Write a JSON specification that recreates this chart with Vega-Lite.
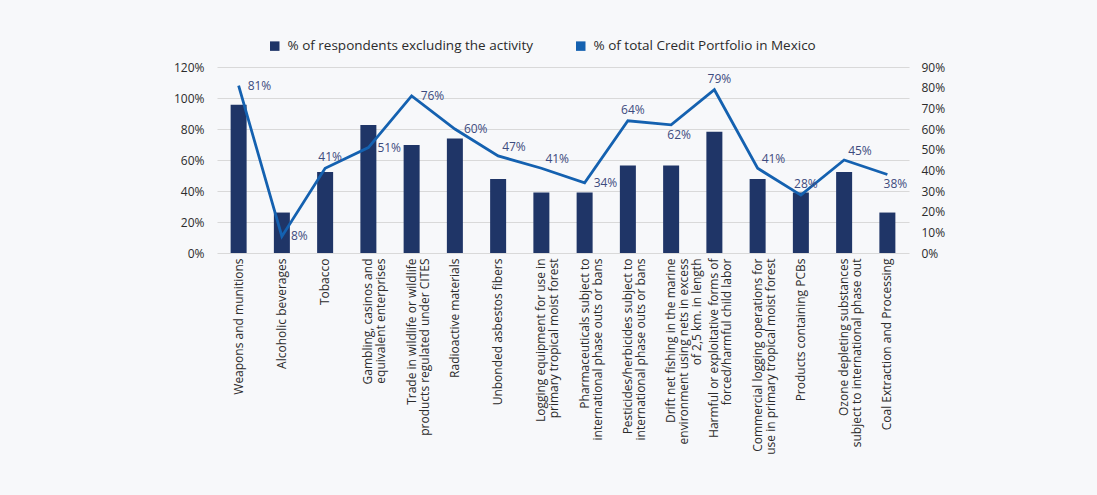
{
  "$schema": "https://vega.github.io/schema/vega-lite/v6.json",
  "width": 692,
  "height": 186,
  "autosize": {"type": "none"},
  "padding": {"left": 217, "top": 67, "right": 188, "bottom": 242},
  "background": "#F7F8FA",
  "config": {
    "view": {"stroke": null},
    "font": "Open Sans",
    "axis": {"labelFont": "Open Sans", "labelColor": "#2B2B2B", "labelFontSize": 12, "domain": false, "ticks": false, "title": null}
  },
  "data": {
    "values": [
      {"category": "Weapons and munitions", "respondents": 0.957, "portfolio": 0.81},
      {"category": "Alcoholic beverages", "respondents": 0.261, "portfolio": 0.08},
      {"category": "Tobacco", "respondents": 0.522, "portfolio": 0.41},
      {"category": "Gambling, casinos and|equivalent enterprises", "respondents": 0.826, "portfolio": 0.51},
      {"category": "Trade in wildlife or wildlife|products regulated under CITES", "respondents": 0.696, "portfolio": 0.76},
      {"category": "Radioactive materials", "respondents": 0.739, "portfolio": 0.60},
      {"category": "Unbonded asbestos fibers", "respondents": 0.478, "portfolio": 0.47},
      {"category": "Logging equipment for use in|primary tropical moist forest", "respondents": 0.391, "portfolio": 0.41},
      {"category": "Pharmaceuticals subject to|international phase outs or bans", "respondents": 0.391, "portfolio": 0.34},
      {"category": "Pesticides/herbicides subject to|international phase outs or bans", "respondents": 0.565, "portfolio": 0.64},
      {"category": "Drift net fishing in the marine|environment using nets in excess|of 2,5 km. in length", "respondents": 0.565, "portfolio": 0.62},
      {"category": "Harmful or exploitative forms of|forced/harmful child labor", "respondents": 0.783, "portfolio": 0.79},
      {"category": "Commercial logging operations for|use in primary tropical moist forest", "respondents": 0.478, "portfolio": 0.41},
      {"category": "Products containing PCBs", "respondents": 0.391, "portfolio": 0.28},
      {"category": "Ozone depleting substances|subject to international phase out", "respondents": 0.522, "portfolio": 0.45},
      {"category": "Coal Extraction and Processing", "respondents": 0.261, "portfolio": 0.38}
    ]
  },
  "layer": [
    {
      "mark": {"type": "bar", "size": 16},
      "encoding": {
        "x": {
          "field": "category", "type": "nominal", "sort": null,
          "scale": {"paddingInner": 0, "paddingOuter": 0},
          "axis": {"labelAngle": -90, "labelExpr": "split(datum.label, '|')", "labelPadding": 5, "labelLineHeight": 13, "labelLimit": 400}
        },
        "y": {
          "field": "respondents", "type": "quantitative",
          "scale": {"domain": [0, 1.2]},
          "axis": {"values": [0, 0.2, 0.4, 0.6, 0.8, 1.0, 1.2], "format": ".0%", "grid": true, "gridColor": "#D9D9D9", "gridWidth": 1, "labelPadding": 13}
        },
        "color": {
          "datum": "% of respondents excluding the activity",
          "scale": {"domain": ["% of respondents excluding the activity", "% of total Credit Portfolio in Mexico"], "range": ["#1F3567", "#1461B0"]},
          "legend": {"orient": "none", "legendX": 51, "legendY": -28, "direction": "horizontal", "title": null, "symbolType": "square", "symbolSize": 90, "symbolStrokeWidth": 0, "labelFontSize": 13.5, "labelColor": "#2B2B2B", "labelLimit": 500, "columnPadding": 40, "labelOffset": 6}
        }
      }
    },
    {
      "encoding": {
        "x": {"field": "category", "type": "nominal", "sort": null},
        "y": {
          "field": "portfolio", "type": "quantitative",
          "scale": {"domain": [0, 0.9]},
          "axis": {"orient": "right", "values": [0, 0.1, 0.2, 0.3, 0.4, 0.5, 0.6, 0.7, 0.8, 0.9], "format": ".0%", "grid": false, "labelPadding": 12}
        }
      },
      "layer": [
        {"mark": {"type": "line", "color": "#1461B0", "strokeWidth": 2.8}},
        {
          "transform": [{"filter": {"field": "category", "oneOf": ["Weapons and munitions", "Alcoholic beverages", "Gambling, casinos and|equivalent enterprises", "Trade in wildlife or wildlife|products regulated under CITES", "Radioactive materials", "Pharmaceuticals subject to|international phase outs or bans"]}}],
          "mark": {"type": "text", "align": "left", "baseline": "middle", "dx": 9, "dy": 0, "fontSize": 12, "color": "#3D4B7E"},
          "encoding": {"text": {"field": "portfolio", "type": "quantitative", "format": ".0%"}}
        },
        {
          "transform": [{"filter": {"field": "category", "oneOf": ["Unbonded asbestos fibers", "Logging equipment for use in|primary tropical moist forest", "Commercial logging operations for|use in primary tropical moist forest", "Ozone depleting substances|subject to international phase out"]}}],
          "mark": {"type": "text", "align": "left", "baseline": "middle", "dx": 4, "dy": -9, "fontSize": 12, "color": "#3D4B7E"},
          "encoding": {"text": {"field": "portfolio", "type": "quantitative", "format": ".0%"}}
        },
        {
          "transform": [{"filter": {"field": "category", "oneOf": ["Tobacco", "Pesticides/herbicides subject to|international phase outs or bans", "Harmful or exploitative forms of|forced/harmful child labor", "Products containing PCBs"]}}],
          "mark": {"type": "text", "align": "center", "baseline": "middle", "dx": 5, "dy": -11, "fontSize": 12, "color": "#3D4B7E"},
          "encoding": {"text": {"field": "portfolio", "type": "quantitative", "format": ".0%"}}
        },
        {
          "transform": [{"filter": {"field": "category", "oneOf": ["Drift net fishing in the marine|environment using nets in excess|of 2,5 km. in length", "Coal Extraction and Processing"]}}],
          "mark": {"type": "text", "align": "center", "baseline": "middle", "dx": 8, "dy": 10, "fontSize": 12, "color": "#3D4B7E"},
          "encoding": {"text": {"field": "portfolio", "type": "quantitative", "format": ".0%"}}
        }
      ]
    }
  ],
  "resolve": {"scale": {"y": "independent"}}
}
